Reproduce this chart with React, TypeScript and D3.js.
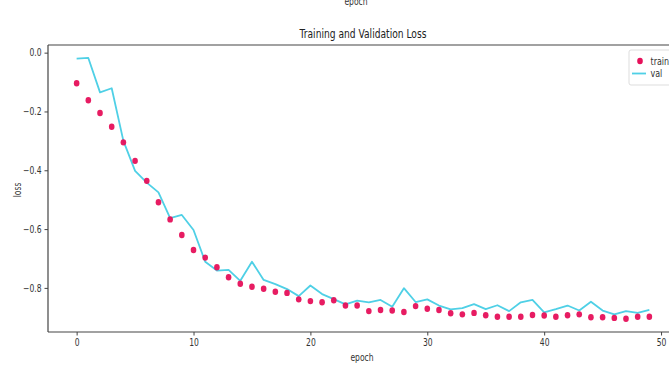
import React, { useRef, useEffect } from 'react';
import * as d3 from 'd3';

const epochs = d3.range(0, 50);

const trainLoss = [
  -0.104, -0.162, -0.205, -0.252, -0.305, -0.368, -0.436, -0.509, -0.567, -0.62,
  -0.671, -0.697, -0.73, -0.764, -0.786, -0.796, -0.803, -0.813, -0.817, -0.839,
  -0.845, -0.849, -0.842, -0.86, -0.86, -0.879, -0.875, -0.877, -0.882, -0.862,
  -0.871, -0.875, -0.886, -0.89, -0.885, -0.893, -0.898, -0.898, -0.898, -0.892,
  -0.894, -0.898, -0.893, -0.89, -0.9, -0.9, -0.902, -0.905, -0.898, -0.898,
];

const valLoss = [
  -0.02, -0.018, -0.135, -0.121, -0.3, -0.402, -0.442, -0.475, -0.563, -0.552,
  -0.603, -0.711, -0.741, -0.739, -0.776, -0.711, -0.773, -0.787, -0.804, -0.828,
  -0.792, -0.821, -0.838, -0.856, -0.843, -0.849, -0.841, -0.864, -0.801, -0.848,
  -0.839, -0.86, -0.873, -0.869, -0.855, -0.872, -0.859, -0.879, -0.849, -0.841,
  -0.883, -0.872, -0.86, -0.877, -0.847, -0.877, -0.89, -0.879, -0.885, -0.875,
];

const xTicks = [0, 10, 20, 30, 40, 50];
const yTicks = [0, -0.2, -0.4, -0.6, -0.8];
const legendLabels = ['train', 'val'];

const width = 669;
const height = 370;
const marginLeft = 48;
const marginTop = 45;
const plotRight = 678;
const plotBottom = 332;

const trainColor = '#e6105a';
const valColor = '#4fd0e6';
const textColor = '#333';
const font = 'DejaVu Sans, sans-serif';
// the source image is squeezed horizontally, so the glyphs look narrow
const squeeze = 0.76;

const App: React.FC = () => {
  const svgRef = useRef<SVGSVGElement>(null);

  useEffect(() => {
    const svg = d3.select(svgRef.current);
    svg.selectAll('*').remove();
    svg.attr('width', width).attr('height', height);

    svg.append('rect').attr('width', width).attr('height', height).attr('fill', '#fff');

    const x = d3.scaleLinear().domain([-2.45, 51.45]).range([marginLeft, plotRight]);
    const y = d3.scaleLinear().domain([-0.95, 0.026]).range([plotBottom, marginTop]);

    // clipped label from the plot above
    svg.append('text')
      .attr('x', 356).attr('y', 5)
      .attr('text-anchor', 'middle')
      .attr('font-family', font).attr('font-size', 10)
      .attr('fill', textColor)
      .text('epoch');

    // val line
    const line = d3.line<number>()
      .x((_, i) => x(epochs[i]))
      .y(d => y(d));

    svg.append('path')
      .datum(valLoss)
      .attr('d', line)
      .attr('fill', 'none')
      .attr('stroke', valColor)
      .attr('stroke-width', 1.8)
      .attr('stroke-linejoin', 'round');

    // train dots
    svg.append('g')
      .selectAll('ellipse')
      .data(trainLoss)
      .enter()
      .append('ellipse')
      .attr('cx', (_, i) => x(epochs[i]))
      .attr('cy', d => y(d))
      .attr('rx', 2.8)
      .attr('ry', 3.2)
      .attr('fill', trainColor)
      .attr('fill-opacity', 0.95);

    // spines
    const spine = svg.append('g').attr('stroke', '#444').attr('stroke-width', 1.2).attr('fill', 'none');
    spine.append('line').attr('x1', marginLeft).attr('x2', marginLeft).attr('y1', marginTop).attr('y2', plotBottom);
    spine.append('line').attr('x1', marginLeft).attr('x2', plotRight).attr('y1', plotBottom).attr('y2', plotBottom);
    spine.append('line').attr('x1', marginLeft).attr('x2', plotRight).attr('y1', marginTop).attr('y2', marginTop);
    spine.append('line').attr('x1', plotRight).attr('x2', plotRight).attr('y1', marginTop).attr('y2', plotBottom);

    // x axis
    const xAxis = svg.append('g')
      .attr('transform', `translate(0,${plotBottom})`)
      .call(d3.axisBottom(x).tickValues(xTicks).tickFormat(d3.format('d')).tickSize(3.5).tickPadding(3));
    xAxis.select('.domain').remove();
    xAxis.selectAll('line').attr('stroke', '#444');
    xAxis.selectAll('text').attr('font-family', font).attr('font-size', 10).attr('fill', textColor);

    // y axis
    const yAxis = svg.append('g')
      .attr('transform', `translate(${marginLeft},0)`)
      .call(d3.axisLeft(y).tickValues(yTicks).tickFormat(d3.format('.1f')).tickSize(3.5).tickPadding(3));
    yAxis.select('.domain').remove();
    yAxis.selectAll('line').attr('stroke', '#444');
    yAxis.selectAll('text').attr('font-family', font).attr('font-size', 10).attr('fill', textColor);

    // labels
    svg.append('text')
      .attr('x', 363).attr('y', 38)
      .attr('text-anchor', 'middle')
      .attr('font-family', font).attr('font-size', 12)
      .attr('fill', '#222')
      .text('Training and Validation Loss');

    svg.append('text')
      .attr('x', 362).attr('y', 361)
      .attr('text-anchor', 'middle')
      .attr('font-family', font).attr('font-size', 10)
      .attr('fill', textColor)
      .text('epoch');

    svg.append('text')
      .attr('transform', 'translate(21,190) rotate(-90)')
      .attr('text-anchor', 'middle')
      .attr('font-family', font).attr('font-size', 10)
      .attr('fill', textColor)
      .text('loss');

    // legend
    const legend = svg.append('g').attr('transform', 'translate(629,50)');
    legend.append('rect')
      .attr('width', 60).attr('height', 35).attr('rx', 2)
      .attr('fill', '#fff').attr('fill-opacity', 0.8)
      .attr('stroke', '#ddd');
    legend.append('ellipse')
      .attr('cx', 11).attr('cy', 11).attr('rx', 2.8).attr('ry', 3.2)
      .attr('fill', trainColor);
    legend.append('line')
      .attr('x1', 3).attr('x2', 17).attr('y1', 23.5).attr('y2', 23.5)
      .attr('stroke', valColor).attr('stroke-width', 1.8);
    legend.selectAll('text.lbl')
      .data(legendLabels)
      .enter()
      .append('text')
      .attr('class', 'lbl')
      .attr('x', 21.5)
      .attr('y', (_, i) => 14.5 + i * 12.5)
      .attr('font-family', font).attr('font-size', 10.5)
      .attr('fill', textColor)
      .text(d => d);

    // narrow every text
    svg.selectAll<SVGTextElement, unknown>('text').each(function () {
      const len = this.getComputedTextLength();
      d3.select(this)
        .attr('textLength', len * squeeze)
        .attr('lengthAdjust', 'spacingAndGlyphs');
    });
  }, []);

  return (
    <svg ref={svgRef} style={{ position: 'absolute', left: 0, top: 0 }}></svg>
  );
};

export default App;
